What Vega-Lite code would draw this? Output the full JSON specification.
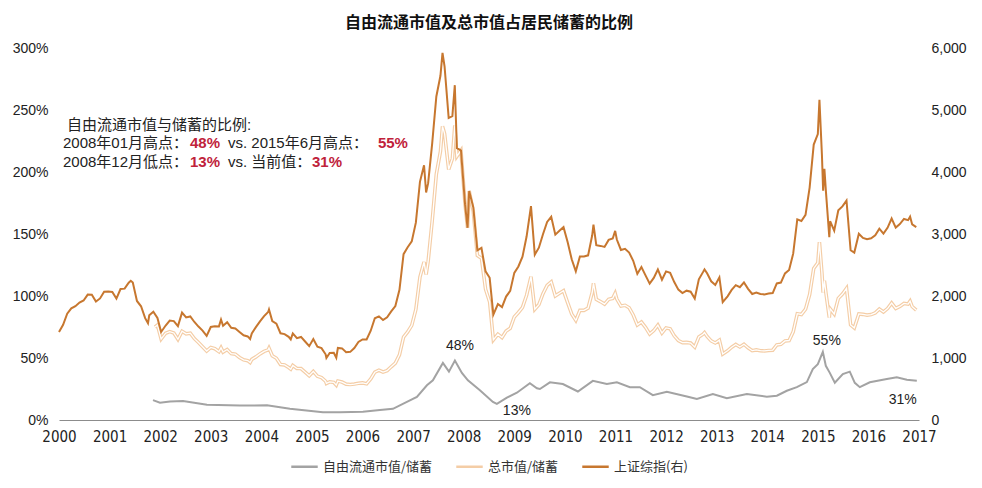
{
 "$schema": "https://vega.github.io/schema/vega-lite/v6.json",
 "width": 860,
 "height": 372,
 "autosize": {"type": "none"},
 "padding": {"left": 59, "top": 48, "right": 63, "bottom": 68},
 "background": "white",
 "config": {
  "view": {"stroke": null},
  "font": "Liberation Sans",
  "axis": {"grid": false, "ticks": false, "domain": false, "labelColor": "#222222", "labelFont": "Liberation Sans", "labelFontSize": 14}
 },
 "title": {"text": "自由流通市值及总市值占居民储蓄的比例", "font": "Noto Sans CJK SC", "fontSize": 16, "fontWeight": "bold", "color": "#111111", "anchor": "middle", "offset": 10},
 "datasets": {
  "sse": [
   {"p":2000.000,"v":1420},{"p":2000.081,"v":1535},{"p":2000.162,"v":1714},{"p":2000.243,"v":1800},{"p":2000.324,"v":1836},{"p":2000.405,"v":1894},{"p":2000.486,"v":1928},{"p":2000.568,"v":2023},{"p":2000.649,"v":2022},{"p":2000.730,"v":1910},{"p":2000.811,"v":1961},{"p":2000.892,"v":2070},{"p":2000.973,"v":2073},
   {"p":2001.054,"v":2065},{"p":2001.135,"v":1959},{"p":2001.216,"v":2112},{"p":2001.297,"v":2119},{"p":2001.378,"v":2214},{"p":2001.419,"v":2245},{"p":2001.459,"v":2218},{"p":2001.541,"v":1920},{"p":2001.622,"v":1834},{"p":2001.703,"v":1642},{"p":2001.759,"v":1560},{"p":2001.784,"v":1689},{"p":2001.865,"v":1747},{"p":2001.946,"v":1646},
   {"p":2002.019,"v":1420},{"p":2002.108,"v":1524},{"p":2002.189,"v":1603},{"p":2002.270,"v":1595},{"p":2002.351,"v":1515},{"p":2002.432,"v":1732},{"p":2002.513,"v":1655},{"p":2002.595,"v":1670},{"p":2002.676,"v":1581},{"p":2002.757,"v":1507},{"p":2002.838,"v":1442},{"p":2002.919,"v":1357},
   {"p":2003.000,"v":1500},{"p":2003.081,"v":1512},{"p":2003.162,"v":1510},{"p":2003.203,"v":1620},{"p":2003.243,"v":1521},{"p":2003.324,"v":1577},{"p":2003.405,"v":1487},{"p":2003.486,"v":1476},{"p":2003.568,"v":1421},{"p":2003.649,"v":1367},{"p":2003.730,"v":1348},{"p":2003.778,"v":1307},{"p":2003.811,"v":1397},{"p":2003.892,"v":1497},
   {"p":2003.973,"v":1590},{"p":2004.054,"v":1675},{"p":2004.135,"v":1742},{"p":2004.151,"v":1783},{"p":2004.216,"v":1595},{"p":2004.297,"v":1555},{"p":2004.378,"v":1399},{"p":2004.459,"v":1386},{"p":2004.540,"v":1342},{"p":2004.581,"v":1300},{"p":2004.622,"v":1396},{"p":2004.703,"v":1320},{"p":2004.784,"v":1340},{"p":2004.865,"v":1266},
   {"p":2004.946,"v":1191},{"p":2005.027,"v":1306},{"p":2005.108,"v":1181},{"p":2005.189,"v":1159},{"p":2005.270,"v":1060},{"p":2005.286,"v":1000},{"p":2005.351,"v":1080},{"p":2005.432,"v":1083},{"p":2005.481,"v":1004},{"p":2005.513,"v":1162},{"p":2005.595,"v":1155},{"p":2005.676,"v":1092},{"p":2005.757,"v":1099},{"p":2005.838,"v":1161},
   {"p":2005.919,"v":1258},{"p":2006.000,"v":1299},{"p":2006.081,"v":1298},{"p":2006.162,"v":1440},{"p":2006.243,"v":1641},{"p":2006.324,"v":1672},{"p":2006.405,"v":1612},{"p":2006.486,"v":1658},{"p":2006.567,"v":1752},{"p":2006.649,"v":1837},{"p":2006.730,"v":2099},{"p":2006.811,"v":2675},
   {"p":2006.892,"v":2786},{"p":2006.973,"v":2881},{"p":2007.054,"v":3183},{"p":2007.135,"v":3841},{"p":2007.216,"v":4109},{"p":2007.257,"v":3670},{"p":2007.297,"v":3820},{"p":2007.378,"v":4471},{"p":2007.459,"v":5218},{"p":2007.540,"v":5552},{"p":2007.581,"v":5920},{"p":2007.622,"v":5700},{"p":2007.703,"v":4870},{"p":2007.776,"v":4900},{"p":2007.824,"v":5400},
   {"p":2007.865,"v":4383},{"p":2007.946,"v":4348},{"p":2008.027,"v":3473},{"p":2008.076,"v":3100},{"p":2008.108,"v":3693},{"p":2008.189,"v":3433},{"p":2008.270,"v":2736},{"p":2008.351,"v":2775},{"p":2008.432,"v":2397},{"p":2008.513,"v":2293},{"p":2008.586,"v":1700},{"p":2008.676,"v":1871},{"p":2008.757,"v":1821},
   {"p":2008.838,"v":1991},{"p":2008.919,"v":2082},{"p":2009.000,"v":2373},{"p":2009.081,"v":2477},{"p":2009.162,"v":2633},{"p":2009.243,"v":2959},{"p":2009.330,"v":3450},{"p":2009.405,"v":2667},{"p":2009.486,"v":2779},{"p":2009.567,"v":2996},{"p":2009.649,"v":3195},{"p":2009.730,"v":3277},
   {"p":2009.811,"v":2989},{"p":2009.892,"v":3051},{"p":2009.973,"v":3110},{"p":2010.054,"v":2871},{"p":2010.135,"v":2592},{"p":2010.216,"v":2398},{"p":2010.297,"v":2638},{"p":2010.378,"v":2639},{"p":2010.459,"v":2656},{"p":2010.540,"v":2979},{"p":2010.565,"v":3150},{"p":2010.621,"v":2820},{"p":2010.703,"v":2808},
   {"p":2010.784,"v":2791},{"p":2010.865,"v":2905},{"p":2010.946,"v":2928},{"p":2010.994,"v":3050},{"p":2011.027,"v":2911},{"p":2011.108,"v":2743},{"p":2011.189,"v":2762},{"p":2011.270,"v":2701},{"p":2011.351,"v":2568},{"p":2011.432,"v":2359},{"p":2011.513,"v":2468},{"p":2011.594,"v":2333},{"p":2011.676,"v":2199},
   {"p":2011.757,"v":2292},{"p":2011.838,"v":2428},{"p":2011.919,"v":2263},{"p":2012.000,"v":2397},{"p":2012.081,"v":2373},{"p":2012.162,"v":2225},{"p":2012.243,"v":2103},{"p":2012.324,"v":2047},{"p":2012.405,"v":2086},{"p":2012.486,"v":2069},{"p":2012.567,"v":1960},{"p":2012.648,"v":2269},
   {"p":2012.730,"v":2385},{"p":2012.760,"v":2430},{"p":2012.811,"v":2366},{"p":2012.892,"v":2237},{"p":2012.973,"v":2178},{"p":2013.054,"v":2301},{"p":2013.120,"v":1900},{"p":2013.216,"v":1994},{"p":2013.297,"v":2098},{"p":2013.378,"v":2175},{"p":2013.459,"v":2141},{"p":2013.540,"v":2220},{"p":2013.621,"v":2116},
   {"p":2013.703,"v":2033},{"p":2013.784,"v":2056},{"p":2013.865,"v":2033},{"p":2013.946,"v":2026},{"p":2014.027,"v":2039},{"p":2014.108,"v":2048},{"p":2014.189,"v":2202},{"p":2014.270,"v":2217},{"p":2014.351,"v":2364},{"p":2014.432,"v":2420},{"p":2014.513,"v":2683},{"p":2014.594,"v":3235},
   {"p":2014.675,"v":3210},{"p":2014.757,"v":3310},{"p":2014.838,"v":3748},{"p":2014.919,"v":4442},{"p":2015.000,"v":4612},{"p":2015.032,"v":5166},{"p":2015.081,"v":4277},{"p":2015.105,"v":3700},{"p":2015.130,"v":4050},{"p":2015.162,"v":3664},{"p":2015.227,"v":2950},{"p":2015.243,"v":3206},{"p":2015.324,"v":3053},{"p":2015.405,"v":3383},{"p":2015.486,"v":3445},{"p":2015.567,"v":3539},
   {"p":2015.648,"v":2738},{"p":2015.721,"v":2700},{"p":2015.811,"v":3004},{"p":2015.892,"v":2938},{"p":2015.973,"v":2917},{"p":2016.054,"v":2930},{"p":2016.135,"v":2979},{"p":2016.216,"v":3085},{"p":2016.297,"v":3005},{"p":2016.378,"v":3100},{"p":2016.459,"v":3250},{"p":2016.540,"v":3104},
   {"p":2016.621,"v":3159},{"p":2016.703,"v":3242},{"p":2016.784,"v":3223},{"p":2016.824,"v":3280},{"p":2016.865,"v":3155},{"p":2016.946,"v":3110}
  ],
  "total": [
   {"p":2001.897,"v":0.75},{"p":2001.946,"v":0.765},{"p":2002.019,"v":0.653},{"p":2002.108,"v":0.70},{"p":2002.189,"v":0.713},{"p":2002.270,"v":0.702},{"p":2002.351,"v":0.651},{"p":2002.432,"v":0.716},{"p":2002.513,"v":0.695},{"p":2002.595,"v":0.70},{"p":2002.676,"v":0.656},{"p":2002.757,"v":0.625},{"p":2002.838,"v":0.591},{"p":2002.919,"v":0.556},
   {"p":2003.000,"v":0.585},{"p":2003.081,"v":0.575},{"p":2003.162,"v":0.551},{"p":2003.203,"v":0.583},{"p":2003.243,"v":0.548},{"p":2003.324,"v":0.568},{"p":2003.405,"v":0.535},{"p":2003.486,"v":0.531},{"p":2003.568,"v":0.504},{"p":2003.649,"v":0.485},{"p":2003.730,"v":0.479},{"p":2003.778,"v":0.464},{"p":2003.811,"v":0.489},{"p":2003.892,"v":0.509},
   {"p":2003.973,"v":0.533},{"p":2004.054,"v":0.553},{"p":2004.135,"v":0.566},{"p":2004.151,"v":0.58},{"p":2004.216,"v":0.518},{"p":2004.297,"v":0.498},{"p":2004.378,"v":0.448},{"p":2004.459,"v":0.444},{"p":2004.540,"v":0.423},{"p":2004.581,"v":0.41},{"p":2004.622,"v":0.44},{"p":2004.703,"v":0.416},{"p":2004.784,"v":0.415},{"p":2004.865,"v":0.386},
   {"p":2004.946,"v":0.357},{"p":2005.027,"v":0.392},{"p":2005.108,"v":0.354},{"p":2005.189,"v":0.342},{"p":2005.270,"v":0.313},{"p":2005.286,"v":0.295},{"p":2005.351,"v":0.308},{"p":2005.432,"v":0.303},{"p":2005.481,"v":0.281},{"p":2005.513,"v":0.314},{"p":2005.595,"v":0.306},{"p":2005.676,"v":0.289},{"p":2005.757,"v":0.286},{"p":2005.838,"v":0.29},
   {"p":2005.919,"v":0.296},{"p":2006.000,"v":0.299},{"p":2006.081,"v":0.292},{"p":2006.162,"v":0.331},{"p":2006.243,"v":0.386},{"p":2006.324,"v":0.401},{"p":2006.405,"v":0.387},{"p":2006.486,"v":0.398},{"p":2006.567,"v":0.429},{"p":2006.649,"v":0.459},{"p":2006.730,"v":0.525},{"p":2006.811,"v":0.669},
   {"p":2006.892,"v":0.71},{"p":2006.973,"v":0.763},{"p":2007.054,"v":0.891},{"p":2007.135,"v":1.152},{"p":2007.216,"v":1.274},{"p":2007.257,"v":1.174},{"p":2007.297,"v":1.28},{"p":2007.378,"v":1.61},{"p":2007.459,"v":1.983},{"p":2007.540,"v":2.165},{"p":2007.581,"v":2.368},{"p":2007.622,"v":2.31},{"p":2007.703,"v":2.02},{"p":2007.776,"v":2.107},{"p":2007.824,"v":2.376},
   {"p":2007.865,"v":2.126},{"p":2007.946,"v":2.174},{"p":2008.027,"v":1.737},{"p":2008.076,"v":1.55},{"p":2008.108,"v":1.847},{"p":2008.189,"v":1.682},{"p":2008.270,"v":1.327},{"p":2008.351,"v":1.304},{"p":2008.432,"v":1.055},{"p":2008.513,"v":0.952},{"p":2008.586,"v":0.646},{"p":2008.676,"v":0.692},{"p":2008.757,"v":0.665},
   {"p":2008.838,"v":0.717},{"p":2008.919,"v":0.739},{"p":2009.000,"v":0.831},{"p":2009.081,"v":0.867},{"p":2009.162,"v":0.908},{"p":2009.243,"v":1.006},{"p":2009.330,"v":1.156},{"p":2009.405,"v":0.893},{"p":2009.486,"v":0.931},{"p":2009.567,"v":1.019},{"p":2009.649,"v":1.086},{"p":2009.730,"v":1.114},
   {"p":2009.811,"v":1.001},{"p":2009.892,"v":1.022},{"p":2009.973,"v":1.042},{"p":2010.054,"v":0.947},{"p":2010.135,"v":0.855},{"p":2010.216,"v":0.803},{"p":2010.297,"v":0.884},{"p":2010.378,"v":0.884},{"p":2010.459,"v":0.903},{"p":2010.540,"v":1.028},{"p":2010.565,"v":1.103},{"p":2010.621,"v":0.973},{"p":2010.703,"v":0.955},
   {"p":2010.784,"v":0.935},{"p":2010.865,"v":0.973},{"p":2010.946,"v":0.981},{"p":2010.994,"v":1.022},{"p":2011.027,"v":0.975},{"p":2011.108,"v":0.919},{"p":2011.189,"v":0.925},{"p":2011.270,"v":0.905},{"p":2011.351,"v":0.847},{"p":2011.432,"v":0.767},{"p":2011.513,"v":0.79},{"p":2011.594,"v":0.747},{"p":2011.676,"v":0.693},
   {"p":2011.757,"v":0.722},{"p":2011.838,"v":0.765},{"p":2011.919,"v":0.702},{"p":2012.000,"v":0.743},{"p":2012.081,"v":0.736},{"p":2012.162,"v":0.679},{"p":2012.243,"v":0.641},{"p":2012.324,"v":0.624},{"p":2012.405,"v":0.626},{"p":2012.486,"v":0.621},{"p":2012.567,"v":0.588},{"p":2012.648,"v":0.669},
   {"p":2012.730,"v":0.692},{"p":2012.760,"v":0.705},{"p":2012.811,"v":0.674},{"p":2012.892,"v":0.638},{"p":2012.973,"v":0.621},{"p":2013.054,"v":0.644},{"p":2013.120,"v":0.532},{"p":2013.216,"v":0.558},{"p":2013.297,"v":0.587},{"p":2013.378,"v":0.609},{"p":2013.459,"v":0.589},{"p":2013.540,"v":0.611},{"p":2013.621,"v":0.582},
   {"p":2013.703,"v":0.559},{"p":2013.784,"v":0.565},{"p":2013.865,"v":0.559},{"p":2013.946,"v":0.557},{"p":2014.027,"v":0.561},{"p":2014.108,"v":0.563},{"p":2014.189,"v":0.606},{"p":2014.270,"v":0.61},{"p":2014.351,"v":0.638},{"p":2014.432,"v":0.641},{"p":2014.513,"v":0.711},{"p":2014.594,"v":0.857},
   {"p":2014.675,"v":0.851},{"p":2014.757,"v":0.894},{"p":2014.838,"v":1.012},{"p":2014.919,"v":1.222},{"p":2015.000,"v":1.268},{"p":2015.032,"v":1.434},{"p":2015.081,"v":1.187},{"p":2015.105,"v":1.027},{"p":2015.130,"v":1.124},{"p":2015.162,"v":1.019},{"p":2015.227,"v":0.826},{"p":2015.243,"v":0.898},{"p":2015.324,"v":0.855},{"p":2015.405,"v":0.981},{"p":2015.486,"v":1.016},{"p":2015.567,"v":1.062},
   {"p":2015.648,"v":0.767},{"p":2015.721,"v":0.743},{"p":2015.811,"v":0.856},{"p":2015.892,"v":0.852},{"p":2015.973,"v":0.846},{"p":2016.054,"v":0.85},{"p":2016.135,"v":0.864},{"p":2016.216,"v":0.895},{"p":2016.297,"v":0.871},{"p":2016.378,"v":0.899},{"p":2016.459,"v":0.943},{"p":2016.540,"v":0.90},
   {"p":2016.621,"v":0.916},{"p":2016.703,"v":0.94},{"p":2016.784,"v":0.935},{"p":2016.824,"v":0.959},{"p":2016.865,"v":0.915},{"p":2016.946,"v":0.886}
  ],
  "free": [
   {"p":2001.858,"v":0.16},{"p":2001.996,"v":0.14},{"p":2002.194,"v":0.15},{"p":2002.451,"v":0.153},{"p":2002.925,"v":0.123},{"p":2003.577,"v":0.116},{"p":2004.111,"v":0.118},{"p":2004.565,"v":0.09},{"p":2005.217,"v":0.062},{"p":2005.553,"v":0.062},{"p":2006.008,"v":0.066},{"p":2006.344,"v":0.08},{"p":2006.601,"v":0.09},{"p":2006.877,"v":0.146},
   {"p":2007.075,"v":0.186},{"p":2007.273,"v":0.28},{"p":2007.391,"v":0.32},{"p":2007.589,"v":0.46},{"p":2007.708,"v":0.39},{"p":2007.826,"v":0.48},{"p":2007.964,"v":0.38},{"p":2008.083,"v":0.32},{"p":2008.320,"v":0.24},{"p":2008.577,"v":0.146},{"p":2008.656,"v":0.13},{"p":2008.854,"v":0.18},
   {"p":2009.051,"v":0.22},{"p":2009.308,"v":0.296},{"p":2009.447,"v":0.256},{"p":2009.506,"v":0.25},{"p":2009.704,"v":0.304},{"p":2009.960,"v":0.29},{"p":2010.257,"v":0.23},{"p":2010.553,"v":0.316},{"p":2010.830,"v":0.29},{"p":2011.028,"v":0.304},{"p":2011.285,"v":0.265},{"p":2011.482,"v":0.265},{"p":2011.739,"v":0.20},
   {"p":2012.016,"v":0.228},{"p":2012.411,"v":0.19},{"p":2012.609,"v":0.17},{"p":2012.925,"v":0.21},{"p":2013.202,"v":0.175},{"p":2013.597,"v":0.21},{"p":2013.992,"v":0.188},{"p":2014.190,"v":0.196},{"p":2014.387,"v":0.236},{"p":2014.585,"v":0.265},{"p":2014.783,"v":0.306},{"p":2014.901,"v":0.41},
   {"p":2015.000,"v":0.45},{"p":2015.099,"v":0.55},{"p":2015.158,"v":0.437},{"p":2015.237,"v":0.38},{"p":2015.336,"v":0.30},{"p":2015.494,"v":0.37},{"p":2015.632,"v":0.39},{"p":2015.731,"v":0.30},{"p":2015.830,"v":0.265},{"p":2016.028,"v":0.304},{"p":2016.364,"v":0.33},{"p":2016.561,"v":0.344},{"p":2016.759,"v":0.324},{"p":2016.957,"v":0.316}
  ],
  "notes": [
   {"t": "自由流通市值与储蓄的比例:", "k": "head"},
   {"t": "2008年01月高点：", "k": "a1"},
   {"t": "48%", "k": "a2"},
   {"t": "vs. 2015年6月高点：", "k": "a3"},
   {"t": "55%", "k": "a4"},
   {"t": "2008年12月低点：", "k": "b1"},
   {"t": "13%", "k": "b2"},
   {"t": "vs. 当前值：", "k": "b3"},
   {"t": "31%", "k": "b4"},
   {"t": "48%", "k": "p1"},
   {"t": "13%", "k": "p2"},
   {"t": "55%", "k": "p3"},
   {"t": "31%", "k": "p4"}
  ]
 },
 "layer": [
  {
   "layer": [
    {"data": {"name": "free"}, "mark": {"type": "line", "strokeWidth": 2, "interpolate": "linear"},
     "encoding": {
      "x": {"field": "p", "type": "quantitative", "scale": {"domain": [2000, 2017], "nice": false, "zero": false},
            "axis": {"title": null, "values": [2000,2001,2002,2003,2004,2005,2006,2007,2008,2009,2010,2011,2012,2013,2014,2015,2016,2017], "format": "d", "domain": true, "domainColor": "#8c8c8c", "domainWidth": 1, "labelFlush": false, "labelFont": "Liberation Sans Narrow, DejaVu Sans Condensed, Liberation Sans", "labelFontSize": 15, "labelPadding": 9, "labelColor": "#222222"}},
      "y": {"field": "v", "type": "quantitative", "scale": {"domain": [0, 3], "nice": false, "zero": true},
            "axis": {"title": null, "values": [0,0.5,1,1.5,2,2.5,3], "format": ".0%", "labelPadding": 11}},
      "color": {"datum": "自由流通市值/储蓄",
        "scale": {"domain": ["自由流通市值/储蓄", "总市值/储蓄", "上证综指(右)"], "range": ["#A3A3A3", "#F4CDA6", "#C7772F"]},
        "legend": {"orient": "none", "legendX": 231, "legendY": 404, "direction": "horizontal", "title": null,
                   "symbolType": "stroke", "symbolSize": 700, "symbolStrokeWidth": 2.5,
                   "labelFont": "Noto Sans CJK SC", "labelFontSize": 13, "labelColor": "#333333",
                   "columnPadding": 18, "labelOffset": 4, "padding": 0}}}},
    {"data": {"name": "total"}, "mark": {"type": "line", "strokeWidth": 3.6, "interpolate": "linear"},
     "encoding": {
      "x": {"field": "p", "type": "quantitative", "scale": {"domain": [2000, 2017], "nice": false, "zero": false},
            "axis": {"title": null, "values": [2000,2001,2002,2003,2004,2005,2006,2007,2008,2009,2010,2011,2012,2013,2014,2015,2016,2017], "format": "d", "domain": true, "domainColor": "#8c8c8c", "domainWidth": 1, "labelFlush": false, "labelFont": "Liberation Sans Narrow, DejaVu Sans Condensed, Liberation Sans", "labelFontSize": 15, "labelPadding": 9, "labelColor": "#222222"}},
      "y": {"field": "v", "type": "quantitative", "scale": {"domain": [0, 3], "nice": false, "zero": true},
            "axis": {"title": null, "values": [0,0.5,1,1.5,2,2.5,3], "format": ".0%", "labelPadding": 11}},
      "color": {"datum": "总市值/储蓄"}}},
    {"data": {"name": "total"}, "mark": {"type": "line", "strokeWidth": 1.3, "color": "white", "interpolate": "linear"},
     "encoding": {
      "x": {"field": "p", "type": "quantitative", "scale": {"domain": [2000, 2017], "nice": false, "zero": false},
            "axis": {"title": null, "values": [2000,2001,2002,2003,2004,2005,2006,2007,2008,2009,2010,2011,2012,2013,2014,2015,2016,2017], "format": "d", "domain": true, "domainColor": "#8c8c8c", "domainWidth": 1, "labelFlush": false, "labelFont": "Liberation Sans Narrow, DejaVu Sans Condensed, Liberation Sans", "labelFontSize": 15, "labelPadding": 9, "labelColor": "#222222"}},
      "y": {"field": "v", "type": "quantitative", "scale": {"domain": [0, 3], "nice": false, "zero": true},
            "axis": {"title": null, "values": [0,0.5,1,1.5,2,2.5,3], "format": ".0%", "labelPadding": 11}}}},
    {"data": {"name": "notes"}, "transform": [{"filter": "datum.k == 'head'"}],
     "mark": {"type": "text", "align": "left", "baseline": "middle", "font": "Liberation Sans, Noto Sans CJK SC", "fontSize": 15, "fill": "#222222"},
     "encoding": {"x": {"datum": 2000.158, "type": "quantitative"}, "y": {"datum": 2.376, "type": "quantitative"}, "text": {"field": "t"}}},
    {"data": {"name": "notes"}, "transform": [{"filter": "datum.k == 'a1'"}],
     "mark": {"type": "text", "align": "left", "baseline": "middle", "font": "Liberation Sans, Noto Sans CJK SC", "fontSize": 15, "fill": "#222222"},
     "encoding": {"x": {"datum": 2000.079, "type": "quantitative"}, "y": {"datum": 2.231, "type": "quantitative"}, "text": {"field": "t"}}},
    {"data": {"name": "notes"}, "transform": [{"filter": "datum.k == 'a2'"}],
     "mark": {"type": "text", "align": "left", "baseline": "middle", "font": "Liberation Sans", "fontSize": 15, "fontWeight": "bold", "fill": "#C0223B"},
     "encoding": {"x": {"datum": 2002.589, "type": "quantitative"}, "y": {"datum": 2.231, "type": "quantitative"}, "text": {"field": "t"}}},
    {"data": {"name": "notes"}, "transform": [{"filter": "datum.k == 'a3'"}],
     "mark": {"type": "text", "align": "left", "baseline": "middle", "font": "Liberation Sans, Noto Sans CJK SC", "fontSize": 15, "fill": "#222222"},
     "encoding": {"x": {"datum": 2003.340, "type": "quantitative"}, "y": {"datum": 2.231, "type": "quantitative"}, "text": {"field": "t"}}},
    {"data": {"name": "notes"}, "transform": [{"filter": "datum.k == 'a4'"}],
     "mark": {"type": "text", "align": "left", "baseline": "middle", "font": "Liberation Sans", "fontSize": 15, "fontWeight": "bold", "fill": "#C0223B"},
     "encoding": {"x": {"datum": 2006.304, "type": "quantitative"}, "y": {"datum": 2.231, "type": "quantitative"}, "text": {"field": "t"}}},
    {"data": {"name": "notes"}, "transform": [{"filter": "datum.k == 'b1'"}],
     "mark": {"type": "text", "align": "left", "baseline": "middle", "font": "Liberation Sans, Noto Sans CJK SC", "fontSize": 15, "fill": "#222222"},
     "encoding": {"x": {"datum": 2000.079, "type": "quantitative"}, "y": {"datum": 2.084, "type": "quantitative"}, "text": {"field": "t"}}},
    {"data": {"name": "notes"}, "transform": [{"filter": "datum.k == 'b2'"}],
     "mark": {"type": "text", "align": "left", "baseline": "middle", "font": "Liberation Sans", "fontSize": 15, "fontWeight": "bold", "fill": "#C0223B"},
     "encoding": {"x": {"datum": 2002.589, "type": "quantitative"}, "y": {"datum": 2.084, "type": "quantitative"}, "text": {"field": "t"}}},
    {"data": {"name": "notes"}, "transform": [{"filter": "datum.k == 'b3'"}],
     "mark": {"type": "text", "align": "left", "baseline": "middle", "font": "Liberation Sans, Noto Sans CJK SC", "fontSize": 15, "fill": "#222222"},
     "encoding": {"x": {"datum": 2003.340, "type": "quantitative"}, "y": {"datum": 2.084, "type": "quantitative"}, "text": {"field": "t"}}},
    {"data": {"name": "notes"}, "transform": [{"filter": "datum.k == 'b4'"}],
     "mark": {"type": "text", "align": "left", "baseline": "middle", "font": "Liberation Sans", "fontSize": 15, "fontWeight": "bold", "fill": "#C0223B"},
     "encoding": {"x": {"datum": 2005.0, "type": "quantitative"}, "y": {"datum": 2.084, "type": "quantitative"}, "text": {"field": "t"}}},
    {"data": {"name": "notes"}, "transform": [{"filter": "datum.k == 'p1'"}],
     "mark": {"type": "text", "align": "center", "baseline": "middle", "font": "Liberation Sans", "fontSize": 14, "fill": "#222222"},
     "encoding": {"x": {"datum": 2007.925, "type": "quantitative"}, "y": {"datum": 0.595, "type": "quantitative"}, "text": {"field": "t"}}},
    {"data": {"name": "notes"}, "transform": [{"filter": "datum.k == 'p2'"}],
     "mark": {"type": "text", "align": "center", "baseline": "middle", "font": "Liberation Sans", "fontSize": 14, "fill": "#222222"},
     "encoding": {"x": {"datum": 2009.051, "type": "quantitative"}, "y": {"datum": 0.072, "type": "quantitative"}, "text": {"field": "t"}}},
    {"data": {"name": "notes"}, "transform": [{"filter": "datum.k == 'p3'"}],
     "mark": {"type": "text", "align": "center", "baseline": "middle", "font": "Liberation Sans", "fontSize": 14, "fill": "#222222"},
     "encoding": {"x": {"datum": 2015.178, "type": "quantitative"}, "y": {"datum": 0.636, "type": "quantitative"}, "text": {"field": "t"}}},
    {"data": {"name": "notes"}, "transform": [{"filter": "datum.k == 'p4'"}],
     "mark": {"type": "text", "align": "center", "baseline": "middle", "font": "Liberation Sans", "fontSize": 14, "fill": "#222222"},
     "encoding": {"x": {"datum": 2016.68, "type": "quantitative"}, "y": {"datum": 0.161, "type": "quantitative"}, "text": {"field": "t"}}}
   ]
  },
  {
   "data": {"name": "sse"},
   "mark": {"type": "line", "strokeWidth": 2, "interpolate": "linear"},
   "encoding": {
    "x": {"field": "p", "type": "quantitative", "scale": {"domain": [2000, 2017], "nice": false, "zero": false},
          "axis": {"title": null, "values": [2000,2001,2002,2003,2004,2005,2006,2007,2008,2009,2010,2011,2012,2013,2014,2015,2016,2017], "format": "d", "domain": true, "domainColor": "#8c8c8c", "domainWidth": 1, "labelFlush": false, "labelFont": "Liberation Sans Narrow, DejaVu Sans Condensed, Liberation Sans", "labelFontSize": 15, "labelPadding": 9, "labelColor": "#222222"}},
    "y": {"field": "v", "type": "quantitative",
          "scale": {"domain": [0, 6000], "nice": false, "zero": true},
          "axis": {"title": null, "orient": "right", "values": [0,1000,2000,3000,4000,5000,6000], "format": ",.0f", "labelPadding": 12}},
    "color": {"datum": "上证综指(右)"}
   }
  }
 ],
 "resolve": {"scale": {"y": "independent"}}
}
